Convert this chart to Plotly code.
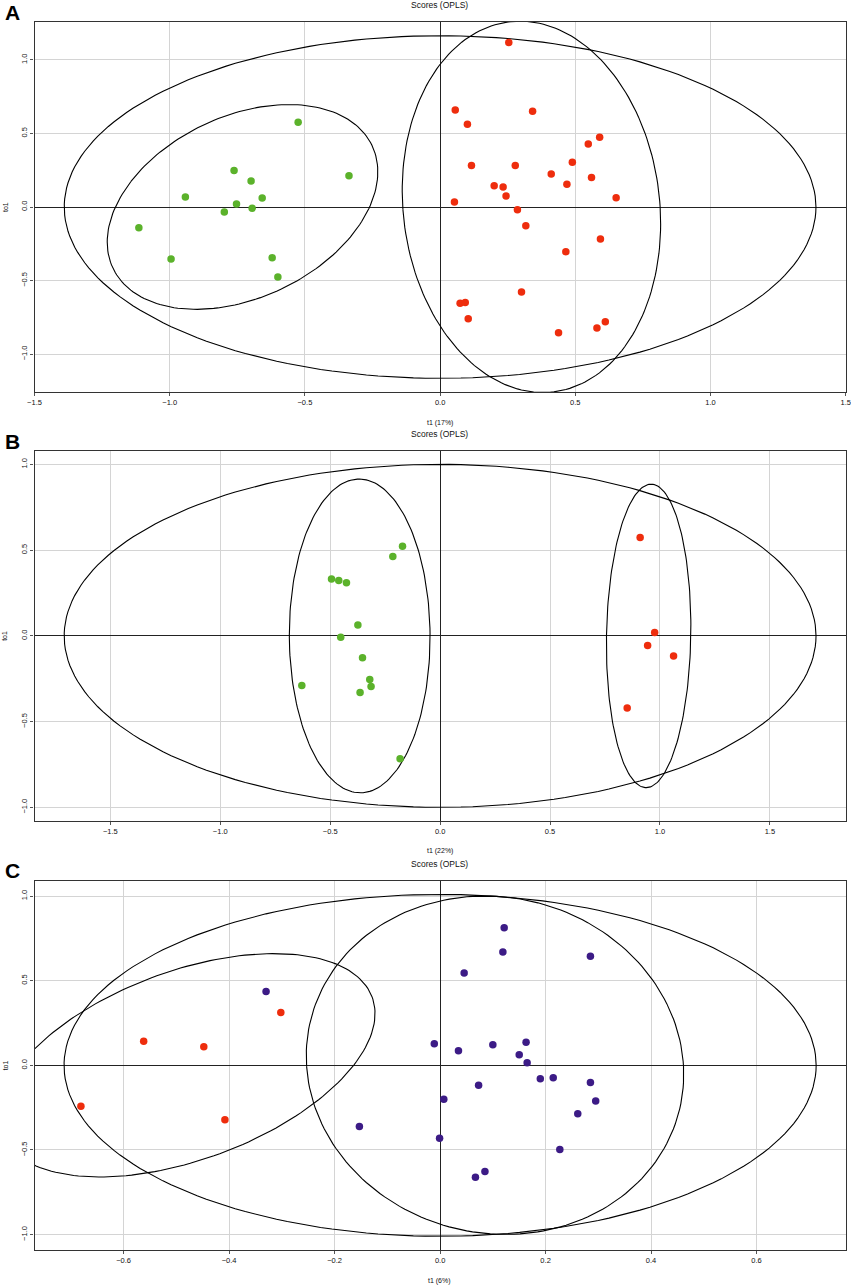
import numpy as np
import plotly.graph_objects as go

# ---- panel A: t1 / to1 scores ----
a_green_t1 = [-0.525, -0.762, -0.699, -0.942, -0.658, -0.753, -0.695, -0.798, -0.337, -1.114, -0.995, -0.621, -0.600]
a_green_to1 = [0.576, 0.249, 0.177, 0.068, 0.061, 0.020, -0.009, -0.034, 0.213, -0.141, -0.354, -0.345, -0.476]
a_red_t1 = [0.254, 0.056, 0.342, 0.101, 0.590, 0.548, 0.116, 0.278, 0.489, 0.411, 0.200, 0.233, 0.560, 0.469,
            0.244, 0.651, 0.053, 0.286, 0.317, 0.593, 0.465, 0.301, 0.074, 0.093, 0.104, 0.438, 0.580, 0.611]
a_red_to1 = [1.118, 0.660, 0.651, 0.562, 0.474, 0.429, 0.283, 0.283, 0.304, 0.224, 0.145, 0.136, 0.200, 0.154,
             0.075, 0.063, 0.034, -0.018, -0.127, -0.218, -0.304, -0.578, -0.655, -0.649, -0.760, -0.855, -0.823, -0.780]

# ---- panel B ----
b_green_t1 = [-0.171, -0.215, -0.494, -0.461, -0.426, -0.374, -0.452, -0.353, -0.320, -0.314, -0.364, -0.629, -0.182]
b_green_to1 = [0.523, 0.463, 0.332, 0.323, 0.309, 0.064, -0.008, -0.128, -0.254, -0.295, -0.330, -0.289, -0.717]
b_red_t1 = [0.910, 0.976, 0.944, 1.062, 0.851]
b_red_to1 = [0.573, 0.019, -0.056, -0.117, -0.421]

# ---- panel C ----
c_red_t1 = [-0.302, -0.562, -0.448, -0.681, -0.408]
c_red_to1 = [0.312, 0.142, 0.110, -0.241, -0.321]
c_purple_t1 = [0.1215, 0.119, 0.285, 0.0456, -0.011, 0.0348, 0.100, 0.163, 0.150, 0.165, 0.190, 0.2145,
               0.285, 0.073, 0.007, 0.295, 0.261, -0.001, 0.227, 0.085, 0.067, -0.330, -0.153]
c_purple_to1 = [0.813, 0.669, 0.645, 0.546, 0.128, 0.087, 0.122, 0.136, 0.063, 0.016, -0.079, -0.073,
                -0.101, -0.118, -0.201, -0.211, -0.286, -0.430, -0.497, -0.627, -0.661, 0.436, -0.361]

# Hotelling T2 ellipse half-axes (t1, to1) per panel
t2_axes = {"A": (1.39, 1.165), "B": (1.71, 1.0), "C": (0.713, 1.01)}
x_ranges = {"A": [-1.5, 1.5], "B": [-1.845, 1.845], "C": [-0.769, 0.769]}
y_ranges = {"A": [-1.258, 1.258], "B": [-1.078, 1.078], "C": [-1.091, 1.091]}
x_titles = {"A": "t1 (17%)", "B": "t1 (22%)", "C": "t1 (6%)"}
x_dticks = {"A": 0.5, "B": 0.5, "C": 0.2}

GREEN = "#5bb22b"
RED = "#ee2d0d"
PURPLE = "#3c1b86"

W, H = 851, 1286
# plot boxes in pixels (left, right, top, bottom)
boxes = {"A": (34.5, 845.7, 22, 392), "B": (34.5, 845.7, 451, 820.7), "C": (34.5, 845.7, 880.7, 1250)}


def group_ellipse(x, y, n=200):
    # 95% ellipse of a group around its mean
    pts = np.column_stack([x, y])
    mu = pts.mean(axis=0)
    cov = np.cov(pts.T)
    vals, vecs = np.linalg.eigh(cov)
    k = np.sqrt(5.991)
    th = np.linspace(0, 2 * np.pi, n)
    circ = np.column_stack([np.cos(th), np.sin(th)]) * np.sqrt(vals) * k
    e = circ @ vecs.T + mu
    return e[:, 0], e[:, 1]


def t2_ellipse(ax, ay, n=200):
    th = np.linspace(0, 2 * np.pi, n)
    return ax * np.cos(th), ay * np.sin(th)


fig = go.Figure()

panels = {
    "A": [(a_green_t1, a_green_to1, GREEN), (a_red_t1, a_red_to1, RED)],
    "B": [(b_green_t1, b_green_to1, GREEN), (b_red_t1, b_red_to1, RED)],
    "C": [(c_red_t1, c_red_to1, RED), (c_purple_t1, c_purple_to1, PURPLE)],
}

annotations = []
for i, key in enumerate(["A", "B", "C"]):
    sfx = "" if i == 0 else str(i + 1)
    xa, ya = "x" + sfx, "y" + sfx
    ex, ey = t2_ellipse(*t2_axes[key])
    fig.add_trace(go.Scatter(x=ex, y=ey, mode="lines", line=dict(color="black", width=1.1),
                             xaxis=xa, yaxis=ya, hoverinfo="skip", showlegend=False))
    for gx, gy, col in panels[key]:
        ex, ey = group_ellipse(gx, gy)
        fig.add_trace(go.Scatter(x=ex, y=ey, mode="lines", line=dict(color="black", width=1.1),
                                 xaxis=xa, yaxis=ya, hoverinfo="skip", showlegend=False))
    for gx, gy, col in panels[key]:
        fig.add_trace(go.Scatter(x=gx, y=gy, mode="markers", marker=dict(color=col, size=7.5),
                                 xaxis=xa, yaxis=ya, showlegend=False))

    l, r, t, b = boxes[key]
    axis_common = dict(showgrid=True, gridcolor="#d4d4d4", gridwidth=1.2,
                       zeroline=True, zerolinecolor="#222", zerolinewidth=1.3,
                       showline=True, mirror=True, linecolor="#333", linewidth=1.2,
                       ticks="outside", ticklen=3, tickcolor="#555", automargin=False,
                       tickfont=dict(size=7.5, color="#111", family="Liberation Sans, Arial"))
    fig.update_layout(**{
        "xaxis" + sfx: dict(domain=[l / W, r / W], range=x_ranges[key], dtick=x_dticks[key],
                            tick0=0, anchor=ya, tickformat=".1f", **axis_common),
        "yaxis" + sfx: dict(domain=[1 - b / H, 1 - t / H], range=y_ranges[key], dtick=0.5,
                            tick0=0, anchor=xa, tickformat=".1f", tickangle=-90, **axis_common),
    })

    cx = 440 / W
    annotations.append(dict(text="<b>" + key + "</b>", x=3 / W, y=1 - (t - 10) / H, xref="paper", yref="paper",
                            xanchor="left", yanchor="middle", showarrow=False,
                            font=dict(size=21, color="black", family="Liberation Sans, Arial")))
    annotations.append(dict(text="Scores (OPLS)", x=cx, y=1 - (t - 17) / H, xref="paper", yref="paper",
                            xanchor="center", yanchor="middle", showarrow=False,
                            font=dict(size=8.5, color="#111", family="Liberation Sans, Arial")))
    annotations.append(dict(text=x_titles[key], x=cx, y=1 - (b + 30.5) / H, xref="paper", yref="paper",
                            xanchor="center", yanchor="middle", showarrow=False,
                            font=dict(size=7, color="#111", family="Liberation Sans, Arial")))
    annotations.append(dict(text="to1", x=5 / W, y=1 - ((t + b) / 2) / H, xref="paper", yref="paper",
                            xanchor="center", yanchor="middle", showarrow=False, textangle=-90,
                            font=dict(size=7, color="#111", family="Liberation Sans, Arial")))

fig.update_layout(width=W, height=H, margin=dict(l=0, r=0, t=0, b=0),
                  plot_bgcolor="white", paper_bgcolor="white", annotations=annotations)

# drop the browser's default page margin so the figure sits at the window corner
fig.write_html("out.html", config={"displayModeBar": False},
               post_script="document.body.style.margin='0';")
